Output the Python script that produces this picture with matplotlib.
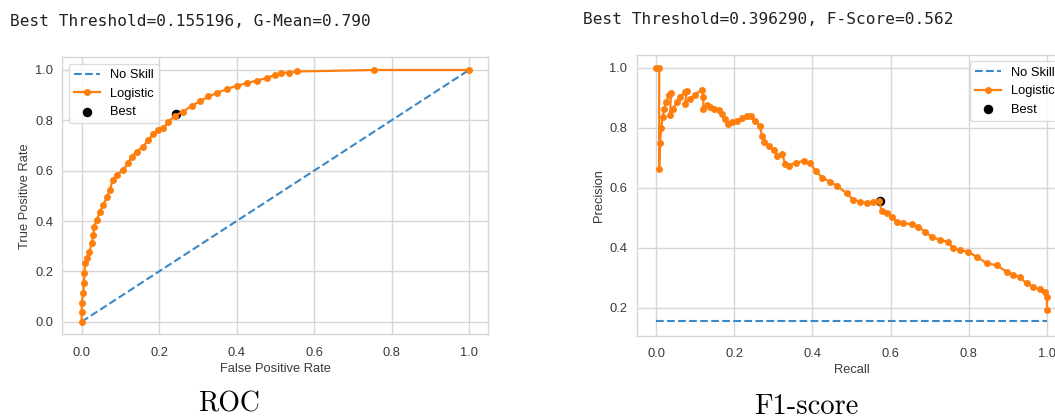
import numpy as np
import matplotlib
matplotlib.use('Agg')
import matplotlib.pyplot as plt

# ROC curve points
roc_fpr = [0.000, 0.000, 0.000, 0.004, 0.006, 0.007, 0.009, 0.013, 0.020, 0.026,
           0.030, 0.032, 0.039, 0.047, 0.056, 0.065, 0.073, 0.080, 0.090, 0.107,
           0.120, 0.129, 0.142, 0.159, 0.172, 0.185, 0.198, 0.211, 0.224, 0.241,
           0.262, 0.284, 0.305, 0.327, 0.349, 0.374, 0.400, 0.426, 0.452, 0.478,
           0.499, 0.514, 0.535, 0.557, 0.755, 1.000]
roc_tpr = [0.000, 0.040, 0.073, 0.113, 0.153, 0.192, 0.232, 0.252, 0.278, 0.312,
           0.345, 0.378, 0.404, 0.437, 0.464, 0.495, 0.524, 0.563, 0.583, 0.603,
           0.630, 0.656, 0.676, 0.696, 0.722, 0.746, 0.762, 0.769, 0.795, 0.818,
           0.835, 0.858, 0.875, 0.895, 0.908, 0.924, 0.937, 0.948, 0.958, 0.968,
           0.981, 0.988, 0.990, 0.994, 1.000, 1.000]
roc_best = (0.244, 0.824)
roc_title = 'Best Threshold=0.155196, G-Mean=0.790'

# precision-recall curve points
pr_recall = [0.000, 0.008, 0.008, 0.010, 0.013, 0.017, 0.021, 0.026, 0.032, 0.038,
             0.036, 0.044, 0.053, 0.062, 0.074, 0.079, 0.074, 0.087, 0.100, 0.117,
             0.121, 0.121, 0.130, 0.139, 0.147, 0.160, 0.168, 0.177, 0.183, 0.194,
             0.207, 0.220, 0.233, 0.243, 0.254, 0.265, 0.271, 0.277, 0.288, 0.301,
             0.310, 0.322, 0.331, 0.339, 0.357, 0.378, 0.395, 0.408, 0.425, 0.446,
             0.463, 0.488, 0.505, 0.522, 0.539, 0.556, 0.571, 0.577, 0.590, 0.603,
             0.616, 0.633, 0.654, 0.671, 0.688, 0.705, 0.726, 0.747, 0.760, 0.777,
             0.799, 0.820, 0.846, 0.871, 0.897, 0.914, 0.931, 0.948, 0.965, 0.982,
             0.995, 1.000, 1.000]
pr_precision = [1.000, 1.000, 0.664, 0.749, 0.798, 0.835, 0.863, 0.886, 0.908, 0.916,
                0.843, 0.863, 0.886, 0.903, 0.919, 0.922, 0.880, 0.897, 0.910, 0.927,
                0.903, 0.863, 0.875, 0.869, 0.863, 0.860, 0.846, 0.830, 0.813, 0.818,
                0.821, 0.832, 0.839, 0.838, 0.824, 0.807, 0.774, 0.751, 0.738, 0.727,
                0.706, 0.712, 0.678, 0.673, 0.684, 0.689, 0.682, 0.656, 0.634, 0.619,
                0.606, 0.581, 0.559, 0.553, 0.550, 0.551, 0.557, 0.521, 0.515, 0.503,
                0.487, 0.481, 0.479, 0.470, 0.453, 0.437, 0.426, 0.420, 0.398, 0.392,
                0.387, 0.370, 0.348, 0.342, 0.320, 0.309, 0.301, 0.281, 0.270, 0.261,
                0.253, 0.237, 0.192]
pr_no_skill = 0.155
pr_best = (0.573, 0.556)
pr_title = 'Best Threshold=0.396290, F-Score=0.562'

captions = ['ROC', 'F1-score']

W, H = 1055, 419
plt.rcParams['font.family'] = ['Liberation Sans', 'DejaVu Sans']
plt.rcParams['font.size'] = 9.3

fig = plt.figure(figsize=(W / 100, H / 100), dpi=100)
fig.patch.set_facecolor('white')


def px_axes(left, top, width, height):
    # place an axes using pixel coords measured from the top-left corner
    return fig.add_axes([left / W, 1 - (top + height) / H, width / W, height / H])


def style(ax):
    ax.set_facecolor('white')
    ax.grid(True, color='#d6d6d6', linewidth=1.0)
    ax.set_axisbelow(True)
    for s in ax.spines.values():
        s.set_color('#d6d6d6')
        s.set_linewidth(1.0)
    ax.tick_params(length=0, colors='#3a3a3a', labelsize=9.3)
    ax.tick_params(axis='x', pad=9)
    ax.tick_params(axis='y', pad=6.5)
    ax.xaxis.label.set_color('#3a3a3a')
    ax.yaxis.label.set_color('#3a3a3a')


blue = '#3a88c6'
orange = '#ff7f0e'

# left: ROC
ax1 = px_axes(62.3, 57.4, 426.1, 276.9)
style(ax1)
ax1.plot([0, 1], [0, 1], linestyle='--', color=blue, lw=1.5, label='No Skill')
ax1.plot(roc_fpr, roc_tpr, marker='.', color=orange, lw=1.6, ms=8, label='Logistic')
ax1.scatter([roc_best[0]], [roc_best[1]], marker='o', color='black', s=34, zorder=1, label='Best')
ax1.set_xlim(-0.05, 1.05)
ax1.set_ylim(-0.05, 1.05)
ax1.set_xticks(np.arange(0, 1.01, 0.2))
ax1.set_yticks(np.arange(0, 1.01, 0.2))
ax1.set_xlabel('False Positive Rate', labelpad=3)
ax1.set_ylabel('True Positive Rate', labelpad=3)
ax1.legend(loc='upper left', fontsize=9.3, edgecolor='#d6d6d6', framealpha=0.85)

# right: precision-recall (runs off the right edge like the screenshot)
ax2 = px_axes(636.5, 55.0, 430.0, 280.5)
style(ax2)
ax2.plot([0, 1], [pr_no_skill, pr_no_skill], linestyle='--', color=blue, lw=1.5, label='No Skill')
ax2.plot(pr_recall, pr_precision, marker='.', color=orange, lw=1.6, ms=8, label='Logistic')
ax2.scatter([pr_best[0]], [pr_best[1]], marker='o', color='black', s=34, zorder=1, label='Best')
ax2.set_xlim(-0.05, 1.05)
ax2.set_ylim(0.1075, 1.0425)
ax2.set_xticks(np.arange(0, 1.01, 0.2))
ax2.set_yticks(np.arange(0.2, 1.01, 0.2))
ax2.set_xlabel('Recall', labelpad=3)
ax2.set_ylabel('Precision', labelpad=3)
ax2.legend(loc='upper right', fontsize=9.3, edgecolor='#d6d6d6', framealpha=0.85)

# printed output above each plot
fig.text(10 / W, 1 - 22 / H, roc_title, family='DejaVu Sans Mono', fontsize=11.6,
         color='#222222', va='center', ha='left')
fig.text(583 / W, 1 - 20 / H, pr_title, family='DejaVu Sans Mono', fontsize=11.6,
         color='#222222', va='center', ha='left')

# captions below
fig.text(229 / W, 1 - 411.7 / H, captions[0], family='cmr10', fontsize=20,
         ha='center', va='baseline', color='black')
fig.text(806 / W, 1 - 414 / H, captions[1], family='cmr10', fontsize=20.5,
         ha='center', va='baseline', color='black')

fig.savefig('out.png', dpi=100, facecolor='white')
